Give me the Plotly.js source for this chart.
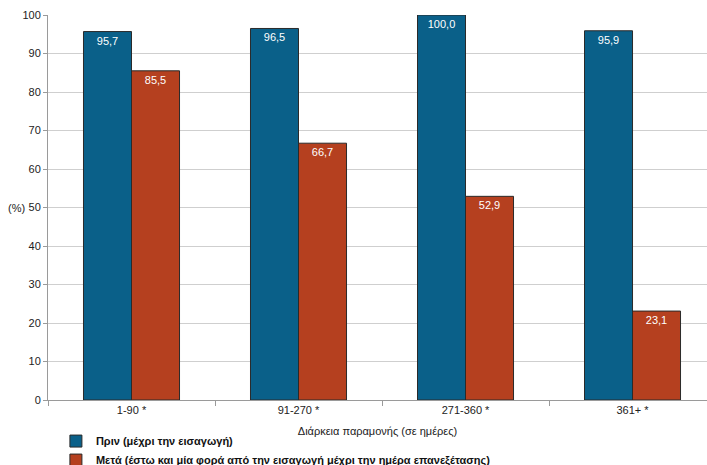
<!DOCTYPE html>
<html><head><meta charset="utf-8">
<script src="https://cdn.plot.ly/plotly-3.0.1.min.js"></script>
<style>html,body{margin:0;padding:0;background:#fff}#c{width:707px;height:465px}</style>
</head><body><div id="c"></div>
<script>
const categories = ["1-90 *", "91-270 *", "271-360 *", "361+ *"];
const beforeVals = [95.7, 96.5, 100.0, 95.9];
const afterVals = [85.5, 66.7, 52.9, 23.1];
const beforeName = "Πριν (μέχρι την εισαγωγή)";
const afterName = "Μετά (έστω και μία φορά από την εισαγωγή μέχρι την ημέρα επανεξέτασης)";
const xTitle = "Διάρκεια παραμονής (σε ημέρες)";
const yTitle = "(%)";
const yTicks = [0,10,20,30,40,50,60,70,80,90,100];

const fmt = v => v.toFixed(1).replace('.', ',');
const F = 'Arial, "Liberation Sans", sans-serif';

const mk = (name, vals, color) => ({
  type: 'bar', name: name, x: categories, y: vals,
  text: vals.map(fmt), textposition: 'inside', insidetextanchor: 'end',
  textangle: 0,
  textfont: {family: F, size: 11, color: '#ffffff'},
  marker: {color: color, line: {color: '#2a2a2a', width: 1}},
  cliponaxis: false, hoverinfo: 'skip'
});

const data = [mk(beforeName, beforeVals, '#0a6089'), mk(afterName, afterVals, '#b5401f')];

const layout = {
  width: 707, height: 465,
  margin: {l: 48, r: 0, t: 15, b: 65, autoexpand: false},
  paper_bgcolor: '#fff', plot_bgcolor: '#fff',
  barmode: 'group', bargap: 0.425, bargroupgap: 0,
  font: {family: F, size: 11, color: '#222'},
  xaxis: {
    type: 'category', range: [-0.5, 3.446],
    showline: true, linecolor: '#9a9a9a', linewidth: 1,
    ticks: 'outside', tickson: 'boundaries', ticklen: 5, tickcolor: '#9a9a9a',
    tickangle: 0,
    tickfont: {family: F, size: 11, color: '#222'},
    title: {text: xTitle, font: {family: F, size: 11, color: '#222'}, standoff: 12},
    showgrid: false, zeroline: false
  },
  yaxis: {
    range: [0, 100], tickvals: yTicks,
    showline: true, linecolor: '#9a9a9a', linewidth: 1,
    ticks: 'outside', ticklen: 4, tickcolor: '#9a9a9a',
    showgrid: true, gridcolor: '#cfcfcf', gridwidth: 1,
    zeroline: false,
    tickfont: {family: F, size: 11, color: '#222'}
  },
  annotations: [{
    text: yTitle, xref: 'paper', yref: 'paper', x: -0.048, y: 0.5,
    xanchor: 'center', yanchor: 'middle', showarrow: false,
    font: {family: F, size: 11, color: '#222'}
  }],
  legend: {
    orientation: 'v', x: 0.012, y: -0.069, xanchor: 'left', yanchor: 'top',
    font: {family: F, size: 11, color: '#111', weight: 'bold'},
    bgcolor: 'rgba(0,0,0,0)', tracegroupgap: 0, itemwidth: 30
  },
  showlegend: true
};

Plotly.newPlot('c', data, layout, {displayModeBar: false, staticPlot: true});
</script></body></html>
